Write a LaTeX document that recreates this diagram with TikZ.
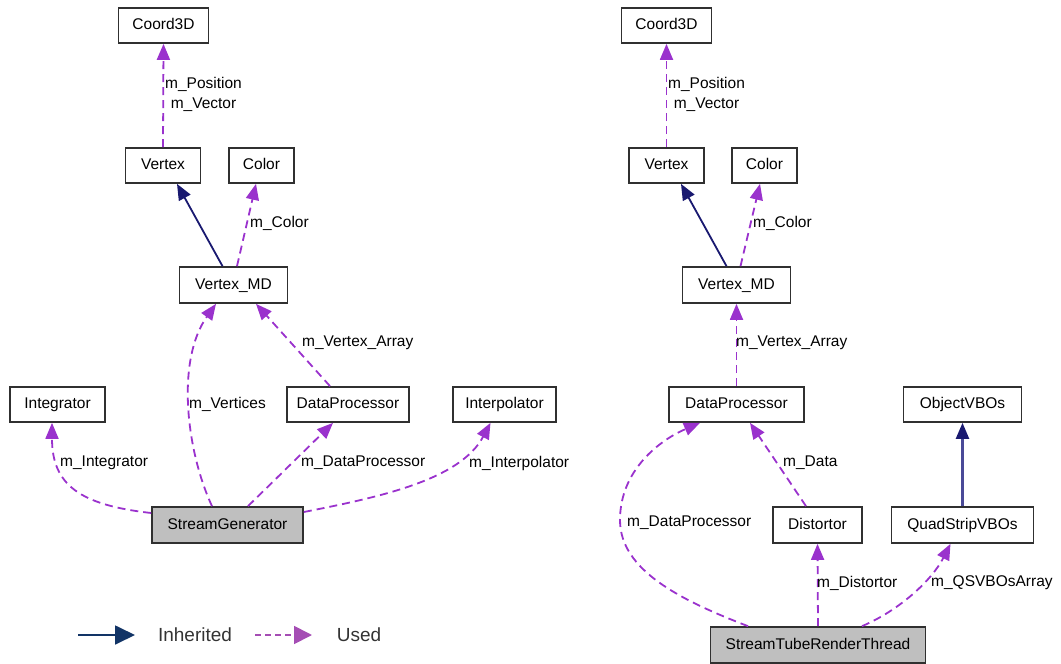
\documentclass[tikz,border=0pt]{standalone}
\usepackage{fontspec}
\setmainfont{Liberation Sans}
\usetikzlibrary{arrows.meta}
\definecolor{usedc}{HTML}{9A32CD}
\definecolor{inhc}{HTML}{191970}
\definecolor{inhlight}{HTML}{4A4A98}
\definecolor{legi}{HTML}{123466}
\definecolor{legu}{HTML}{A54DB4}
\definecolor{grayfill}{HTML}{BFBFBF}
\definecolor{boxline}{HTML}{303030}
\definecolor{legtext}{HTML}{333333}
\begin{document}
\begin{tikzpicture}[x=1pt,y=-1pt,
  cls/.style={draw=boxline, line width=1.7pt, fill=white, minimum height=35pt,
    inner sep=0pt, font=\fontsize{15.5}{18}\selectfont, text height=11pt, text depth=3pt},
  cur/.style={cls, fill=grayfill, minimum height=36pt},
  used/.style={draw=usedc, line width=1.8pt, dash pattern=on 8pt off 5pt,
    -{Triangle[length=16pt,width=13pt]}},
  inh/.style={draw=inhc, line width=1.8pt, -{Triangle[length=16pt,width=13pt]}},
  lbl/.style={anchor=west, inner sep=0pt, font=\fontsize{15.5}{20}\selectfont, align=center},
  legtxt/.style={inner sep=0pt, font=\fontsize{19}{22}\selectfont, text=legtext}
]
\useasboundingbox (0,0) rectangle (1061,664);

% ---------- left diagram ----------
\node[cls, minimum width=90pt]  (C3L)  at (163.5,25.5)  {Coord3D};
\node[cls, minimum width=75pt]  (VL)   at (163,165.5)   {Vertex};
\node[cls, minimum width=65pt]  (ColL) at (261.5,165.5) {Color};
\node[cls, minimum width=108pt,minimum height=36pt] (VMDL) at (233.5,285) {Vertex\_MD};
\node[cls, minimum width=95pt]  (IntL) at (57.5,404.5)  {Integrator};
\node[cls, minimum width=122pt] (DPL)  at (348,404.5)   {DataProcessor};
\node[cls, minimum width=103pt] (IpL)  at (504.5,404.5) {Interpolator};
\node[cur, minimum width=151pt] (SGL)  at (227.5,525)   {StreamGenerator};

\draw[used] (VL.north) -- (C3L.south);
\node[lbl] at (165,94) {m\_Position\\m\_Vector};
\draw[inh] ([xshift=-11pt]VMDL.north) -- ([xshift=14pt]VL.south);
\draw[used] ([xshift=3.5pt]VMDL.north) -- ([xshift=-5.5pt]ColL.south);
\node[lbl] at (250,223) {m\_Color};
\draw[used] ([xshift=-15.5pt]SGL.north) .. controls (186,450) and (176,360) .. ([xshift=-17.5pt]VMDL.south);
\node[lbl] at (189,404) {m\_Vertices};
\draw[used] ([xshift=-18pt]DPL.north) -- ([xshift=22.5pt]VMDL.south);
\node[lbl] at (302,343) {m\_Vertex\_Array};
\draw[used] ([yshift=12pt]SGL.west) .. controls (80,505) and (52,485) .. ([xshift=-5.5pt]IntL.south);
\node[lbl] at (60,463) {m\_Integrator};
\draw[used] ([xshift=20.5pt]SGL.north) -- ([xshift=-15pt]DPL.south);
\node[lbl] at (301,463) {m\_DataProcessor};
\draw[used] ([yshift=13pt]SGL.east) .. controls (380,497) and (460,480) .. ([xshift=-14pt]IpL.south);
\node[lbl] at (469,463) {m\_Interpolator};

% ---------- right diagram ----------
\node[cls, minimum width=90pt]  (C3R)  at (666.5,25.5)  {Coord3D};
\node[cls, minimum width=75pt]  (VR)   at (666.5,165.5) {Vertex};
\node[cls, minimum width=65pt]  (ColR) at (764.5,165.5) {Color};
\node[cls, minimum width=108pt,minimum height=36pt] (VMDR) at (736.5,285) {Vertex\_MD};
\node[cls, minimum width=135pt] (DPR)  at (736.5,404.5) {DataProcessor};
\node[cls, minimum width=118pt] (OVR)  at (962.5,404.5) {ObjectVBOs};
\node[cls, minimum width=89pt,minimum height=36pt]  (DisR) at (817.5,525) {Distortor};
\node[cls, minimum width=142pt,minimum height=36pt] (QSR)  at (962.5,525) {QuadStripVBOs};
\node[cur, minimum width=215pt] (STR)  at (818,645)     {StreamTubeRenderThread};

\draw[used] (VR.north) -- (C3R.south);
\node[lbl] at (668,94) {m\_Position\\m\_Vector};
\draw[inh] ([xshift=-10pt]VMDR.north) -- ([xshift=14.5pt]VR.south);
\draw[used] ([xshift=4pt]VMDR.north) -- ([xshift=-4.5pt]ColR.south);
\node[lbl] at (753,223) {m\_Color};
\draw[used] (DPR.north) -- (VMDR.south);
\node[lbl] at (736,343) {m\_Vertex\_Array};
\draw[used] ([xshift=-11.5pt]DisR.north) -- ([xshift=13.5pt]DPR.south);
\node[lbl] at (783,463) {m\_Data};
\draw[inh, draw=inhlight, line width=2.2pt, -{Triangle[length=16pt,width=13pt,color=inhc]}] (QSR.north) -- (OVR.south);
\draw[used] ([xshift=-70pt]STR.north) .. controls (680,600) and (620,570) .. (620,520)
  .. controls (620,470) and (660,440) .. ([xshift=-36.5pt]DPR.south);
\node[lbl] at (627,523) {m\_DataProcessor};
\draw[used] (STR.north) -- (DisR.south);
\node[lbl] at (817,583) {m\_Distortor};
\draw[used] ([xshift=44pt]STR.north) .. controls (900,610) and (932,580) .. ([xshift=-12pt]QSR.south);
\node[lbl] at (931,583) {m\_QSVBOsArray};

% ---------- legend ----------
\coordinate (li1) at (78,635);
\coordinate (li2) at (135,635);
\coordinate (lu1) at (255,635);
\coordinate (lu2) at (312,635);
\draw[draw=legi, line width=1.8pt, -{Triangle[length=20pt,width=19pt]}] (li1) -- (li2);
\node[legtxt] (linh) at (195,635) {Inherited};
\draw[draw=legu, line width=1.8pt, dash pattern=on 6pt off 4pt, -{Triangle[length=18pt,width=18pt]}] (lu1) -- (lu2);
\node[legtxt] (lused) at (359,635) {Used};
\end{tikzpicture}
\end{document}
